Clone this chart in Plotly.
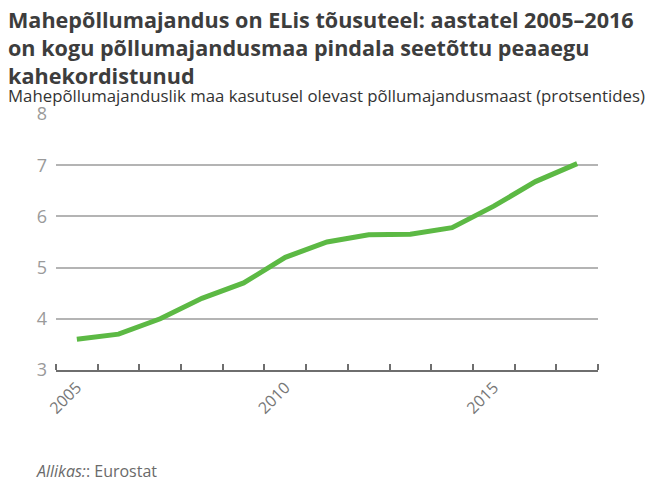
import plotly.graph_objects as go

years = [2005, 2006, 2007, 2008, 2009, 2010, 2011, 2012, 2013, 2014, 2015, 2016, 2017]
organic_share = [3.6, 3.7, 4.0, 4.4, 4.7, 5.2, 5.5, 5.64, 5.65, 5.78, 6.2, 6.68, 7.03]
x_tick_vals = [2005, 2010, 2015]
x_tick_text = ["2005", "2010", "2015"]
y_tick_vals = [3, 4, 5, 6, 7, 8]

title_lines = [
    "Mahepõllumajandus on ELis tõusuteel: aastatel 2005–2016",
    "on kogu põllumajandusmaa pindala seetõttu peaaegu",
    "kahekordistunud",
]
subtitle = "Mahepõllumajanduslik maa kasutusel olevast põllumajandusmaast (protsentides)"
source_label = "Allikas:"
source_text = ": Eurostat"

W, H = 649, 484
L, R, T, B = 56, 51, 114, 114

fig = go.Figure()
fig.add_trace(go.Scatter(
    x=years, y=organic_share, mode="lines",
    line=dict(color="#5cb944", width=5),
    hoverinfo="x+y", showlegend=False,
))

fig.update_layout(
    width=W, height=H,
    margin=dict(l=L, r=R, t=T, b=B),
    paper_bgcolor="white", plot_bgcolor="white",
    font=dict(family="Open Sans, sans-serif"),
    xaxis=dict(
        range=[2004.5, 2017.5],
        tickvals=x_tick_vals, ticktext=x_tick_text,
        ticks="", tickangle=-45,
        tickfont=dict(size=16, color="#777777"),
        showgrid=False, zeroline=False,
        showline=True, linecolor="#6e6e6e", linewidth=2,
        minor=dict(ticks="inside", ticklen=6, tickwidth=2, tickcolor="#6e6e6e",
                   tick0=2004.5, dtick=1, showgrid=False),
        automargin=False, fixedrange=True,
    ),
    yaxis=dict(
        range=[3, 8], tickvals=y_tick_vals,
        tickfont=dict(size=18, color="#9a9a9a"),
        showgrid=True, gridcolor="#b4b4b4", gridwidth=1.5,
        zeroline=False, showline=False, ticks="",
        ticklabelstandoff=8,
        automargin=False, fixedrange=True,
    ),
)

pw = W - L - R
ph = H - T - B

def px_x(px):
    return (px - L) / pw

def px_y(py):
    return (H - B - py) / ph

fig.add_annotation(
    text="<br>".join(f"<b>{line}</b>" for line in title_lines),
    xref="paper", yref="paper",
    x=px_x(6), y=px_y(47), xanchor="left", yanchor="middle", align="left",
    showarrow=False, font=dict(size=21.6, color="#3d3d3d", family="Open Sans, sans-serif"),
)

fig.add_annotation(
    text=subtitle, xref="paper", yref="paper",
    x=px_x(6), y=px_y(95), xanchor="left", yanchor="middle",
    showarrow=False, font=dict(size=16.8, color="#333333", family="Open Sans, sans-serif"),
)

fig.add_annotation(
    text=f"<i>{source_label}</i>{source_text}", xref="paper", yref="paper",
    x=px_x(34), y=px_y(471), xanchor="left", yanchor="middle",
    showarrow=False, font=dict(size=16, color="#6a6a6a", family="Open Sans, sans-serif"),
)

fig.write_html("out.html", config={"displayModeBar": False},
               post_script="document.body.style.margin='0';")
